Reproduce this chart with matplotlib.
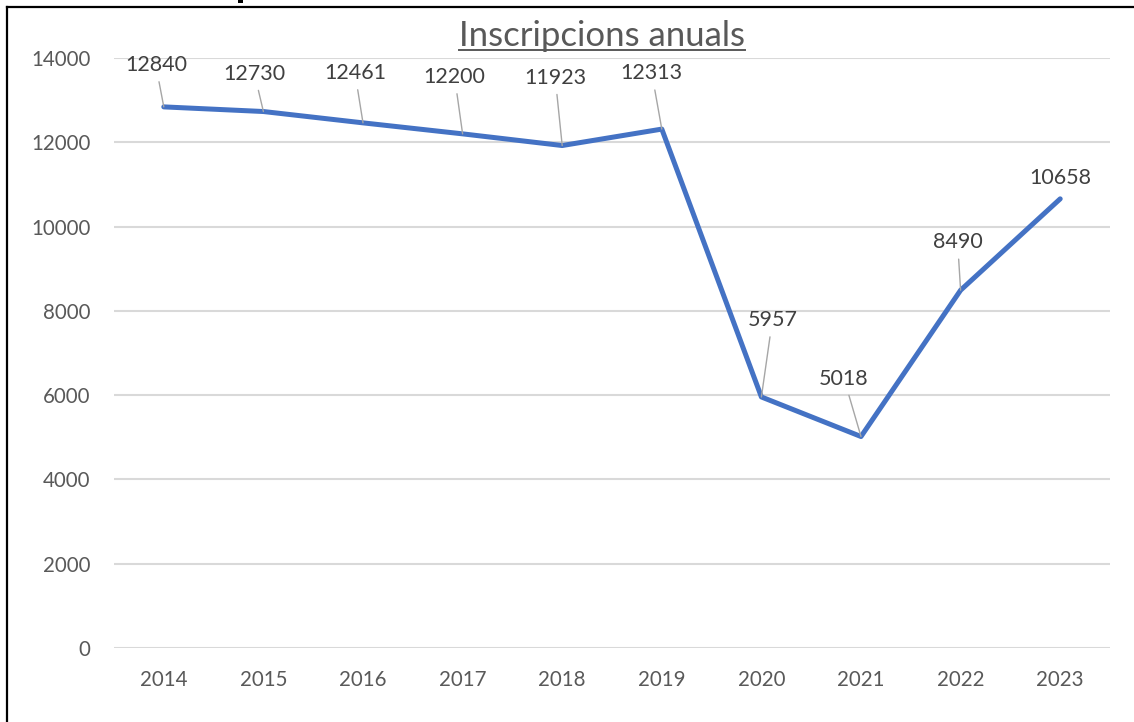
import matplotlib.pyplot as plt
from matplotlib.lines import Line2D
from matplotlib.patches import Rectangle

years = ["2014", "2015", "2016", "2017", "2018", "2019", "2020", "2021", "2022", "2023"]
inscripcions = [12840, 12730, 12461, 12200, 11923, 12313, 5957, 5018, 8490, 10658]
y_ticks = [0, 2000, 4000, 6000, 8000, 10000, 12000, 14000]

# label offsets in pixels (text centre relative to the point)
label_offsets = [(-8, 42), (-9, 38), (-8, 50), (-8, 57), (-7, 68),
                 (-10, 56), (11, 77), (-17, 58), (-3, 48), (0, 21)]

plt.rcParams['font.family'] = ['Lato', 'DejaVu Sans']

W, H = 1134, 722
fig = plt.figure(figsize=(W / 100, H / 100), dpi=100)
ax = fig.add_axes([114 / W, 1 - 648 / H, (1110 - 114) / W, (648 - 58) / H])

x = list(range(len(years)))
ax.plot(x, inscripcions, color='#4472C4', linewidth=3.6, solid_joinstyle='round',
        solid_capstyle='round', zorder=3)

for i, v in enumerate(inscripcions):
    dx, dy = label_offsets[i]
    props = None
    if i != len(years) - 1:
        props = dict(arrowstyle='-', color='#A6A6A6', lw=1.0, shrinkA=3, shrinkB=0)
    ax.annotate(str(v), (i, v), xytext=(dx, dy), textcoords='offset pixels',
                ha='center', va='center', fontsize=15.5, color='#404040',
                arrowprops=props, zorder=4)

ax.set_xlim(-0.5, len(years) - 0.5)
ax.set_ylim(0, 14000)
ax.set_xticks(x)
ax.set_xticklabels(years)
ax.set_yticks(y_ticks)
ax.set_yticklabels([str(t) for t in y_ticks])
ax.tick_params(axis='both', length=0, labelsize=14.8, labelcolor='#595959')
ax.tick_params(axis='x', pad=16)
ax.tick_params(axis='y', pad=17)
ax.grid(axis='y', color='#D9D9D9', linewidth=1.5)
ax.set_axisbelow(True)
for s in ax.spines.values():
    s.set_visible(False)

# title with underline
t = fig.text(602 / W, 1 - 36 / H, 'Inscripcions anuals', ha='center', va='center',
             fontsize=25, color='#595959')
fig.canvas.draw()
bb = t.get_window_extent()
fig.add_artist(Line2D([bb.x0 / W, bb.x1 / W], [1 - 50 / H, 1 - 50 / H],
                      transform=fig.transFigure, color='#595959', lw=1.4))

# frame of the screenshot
fig.add_artist(Line2D([7 / W, 1], [1 - 7 / H, 1 - 7 / H], transform=fig.transFigure,
                      color='black', lw=1.6))
fig.add_artist(Line2D([7 / W, 7 / W], [0, 1 - 7 / H], transform=fig.transFigure,
                      color='black', lw=1.6))
fig.add_artist(Rectangle((238 / W, 1 - 3 / H), 5 / W, 3 / H, transform=fig.transFigure,
                         color='black', lw=0))

fig.savefig('out.png', dpi=100)
